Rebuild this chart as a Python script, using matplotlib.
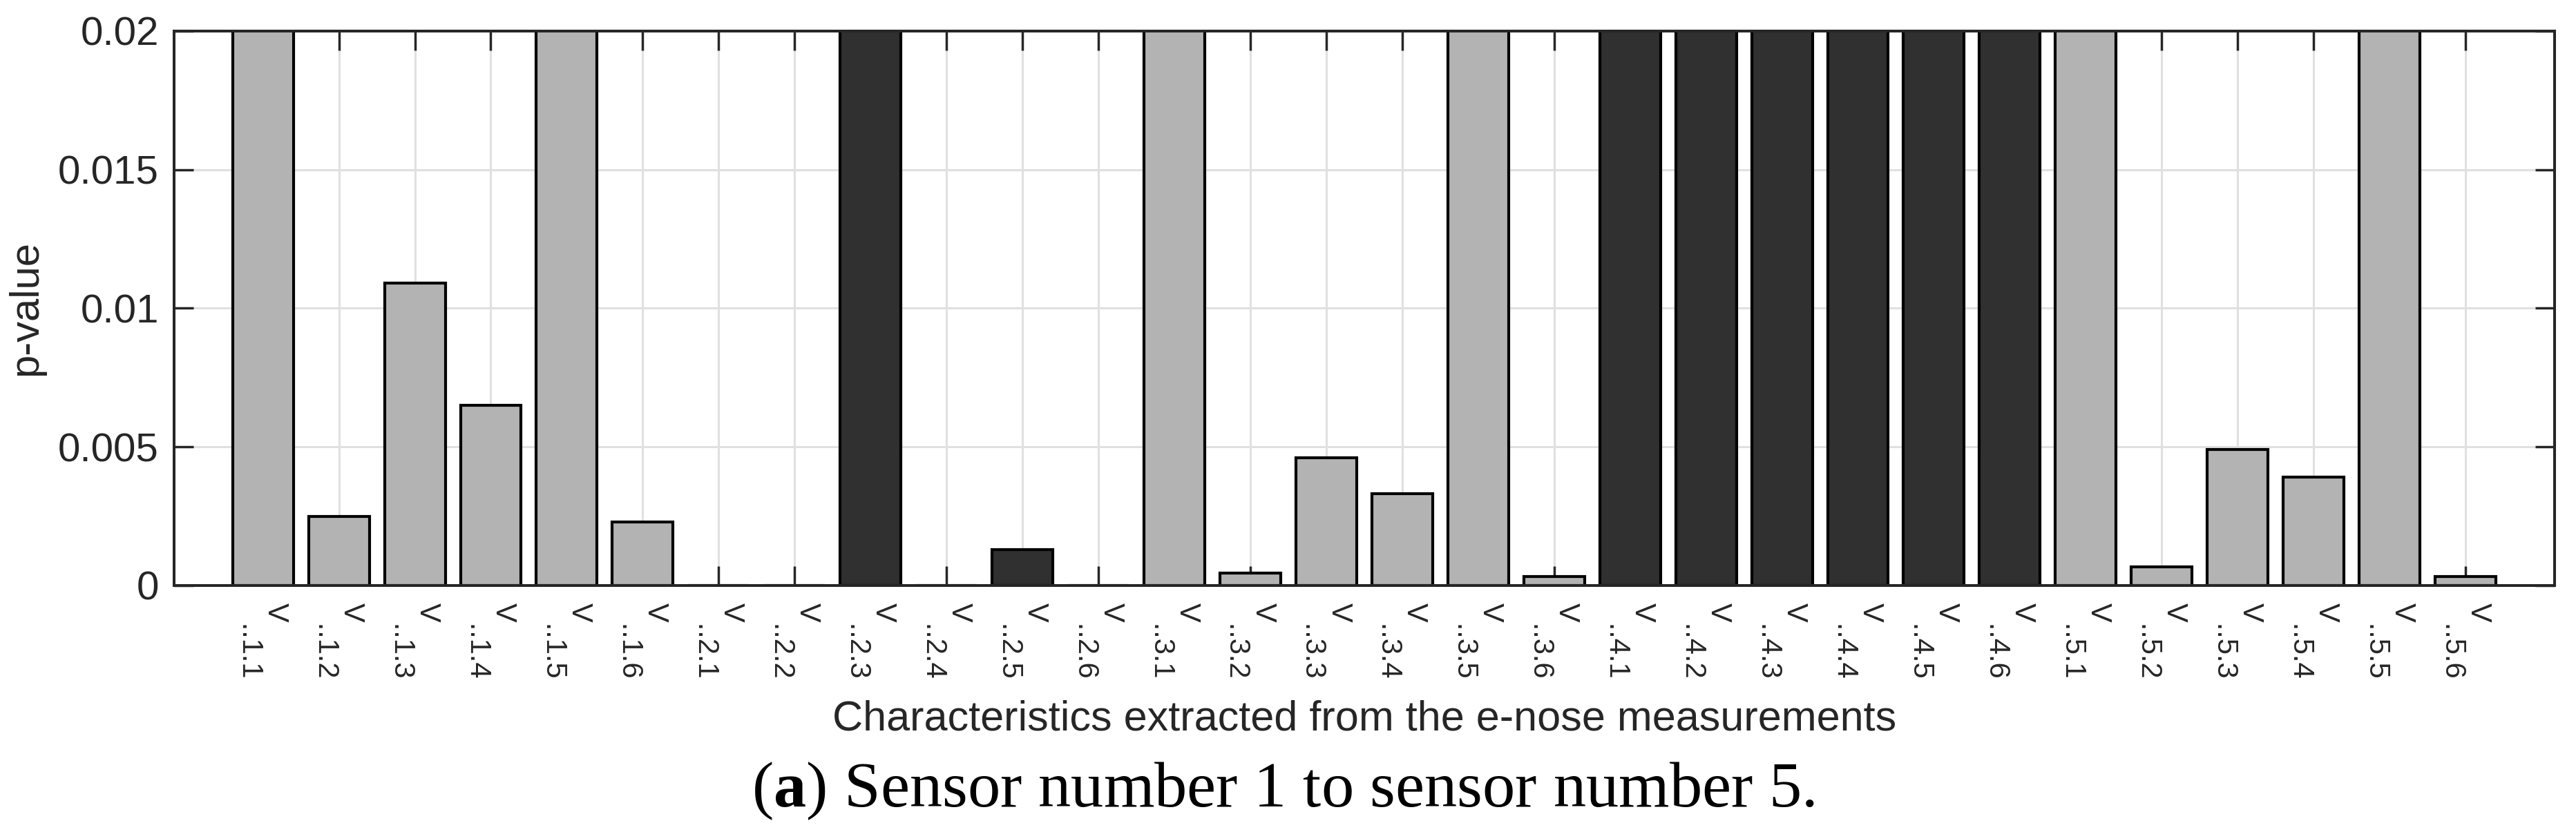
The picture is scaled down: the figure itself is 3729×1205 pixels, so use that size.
import matplotlib
matplotlib.use("Agg")
import matplotlib.pyplot as plt
import numpy as np

# ---- data ----
categories = ["1.1", "1.2", "1.3", "1.4", "1.5", "1.6",
              "2.1", "2.2", "2.3", "2.4", "2.5", "2.6",
              "3.1", "3.2", "3.3", "3.4", "3.5", "3.6",
              "4.1", "4.2", "4.3", "4.4", "4.5", "4.6",
              "5.1", "5.2", "5.3", "5.4", "5.5", "5.6"]
# p-values (bars above 0.02 are clipped by the axis limit in the original)
p_values = [0.05, 0.0025, 0.0109, 0.0065, 0.05, 0.0023,
            0.0, 0.0, 0.05, 0.0, 0.0013, 0.0,
            0.05, 0.00044, 0.0046, 0.0033, 0.05, 0.00032,
            0.05, 0.05, 0.05, 0.05, 0.05, 0.05,
            0.05, 0.00066, 0.0049, 0.0039, 0.05, 0.00032]
# True -> dark bar
dark_flags = [False, False, False, False, False, False,
              False, False, True, False, True, False,
              False, False, False, False, False, False,
              True, True, True, True, True, True,
              False, False, False, False, False, False]
y_ticks = [0, 0.005, 0.01, 0.015, 0.02]
y_tick_labels = ["0", "0.005", "0.01", "0.015", "0.02"]
x_label = "Characteristics extracted from the e-nose measurements"
y_label = "p-value"
caption = r"($\mathbf{a}$) Sensor number 1 to sensor number 5."

# ---- style ----
plt.rcParams["font.family"] = ["Liberation Sans", "DejaVu Sans"]
plt.rcParams["mathtext.fontset"] = "custom"
plt.rcParams["mathtext.rm"] = "Liberation Serif"
plt.rcParams["mathtext.bf"] = "Liberation Serif:bold"

GRAY = "#b3b3b3"
DARK = "#303030"
TXT = "#262626"

fig = plt.figure(figsize=(37.29, 12.05), dpi=100)
ax = fig.add_axes([0.06758, 0.29627, 0.92403, 0.66663])

x = np.arange(len(categories))
colors = [DARK if d else GRAY for d in dark_flags]
ax.bar(x, p_values, width=0.8, color=colors, edgecolor="black",
       linewidth=3.0, zorder=2)

ax.set_xlim(-1.17, len(categories) - 1 + 1.17)
ax.set_ylim(0, 0.02)
ax.set_axisbelow(True)
ax.grid(True, color="#e0e0e0", linewidth=2.2)

ax.set_yticks(y_ticks)
ax.set_yticklabels(y_tick_labels, fontsize=42, color=TXT)
ax.set_xticks(x)
tick_labels = ["V\n\u2002\u2006.." + c for c in categories]
ax.set_xticklabels(tick_labels, rotation=-90, fontsize=30, color=TXT,
                   ha="center", va="top", multialignment="left",
                   linespacing=0.9)

ax.tick_params(axis="both", direction="in", top=True, right=True,
               length=20, width=2.5, color=TXT)
ax.tick_params(axis="y", pad=16)
ax.tick_params(axis="x", pad=18)

for s in ax.spines.values():
    s.set_linewidth(2.9)
    s.set_color(TXT)
    s.set_zorder(3)

ax.set_xlabel(x_label, fontsize=44, color=TXT)
ax.xaxis.label.set_va("center")
ax.xaxis.set_label_coords(0.5, -0.2411)
ax.set_ylabel(y_label, fontsize=43, color=TXT)
ax.yaxis.label.set_va("center")
ax.yaxis.set_label_coords(-0.0621, 0.5)

fig.text(0.498, 0.0307, caption, ha="center", va="baseline",
         fontsize=68, family="Liberation Serif", color="black")

fig.savefig("out.png", dpi=100)
